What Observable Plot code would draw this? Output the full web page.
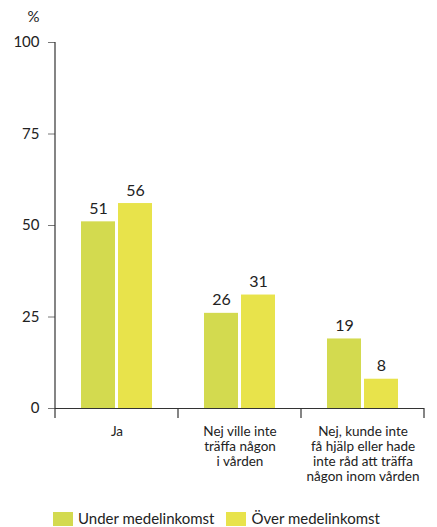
<!DOCTYPE html>
<html>
<head>
<meta charset="utf-8">
<script src="https://cdn.jsdelivr.net/npm/d3@7"></script>
<script src="https://cdn.jsdelivr.net/npm/@observablehq/plot@0.6"></script>
<style>
  html, body { margin: 0; padding: 0; background: #fff; }
  body { width: 437px; font-family: Lato, "Open Sans", sans-serif; color: #222; }
  #legend { display: flex; align-items: center; margin: 26px 0 0 53px; font-size: 15px; line-height: 15px; }
  .item { display: flex; align-items: center; margin-right: 12px; }
  .sw { width: 20px; height: 14px; margin-right: 5px; }
</style>
</head>
<body>
<div id="chart"></div>
<div id="legend"></div>
<script>
const categories = [
  "Ja",
  "Nej ville inte\nträffa någon\ni vården",
  "Nej, kunde inte\nfå hjälp eller hade\ninte råd att träffa\nnågon inom vården"
];
const series = ["Under medelinkomst", "Över medelinkomst"];
const underValues = [51, 26, 19];
const overValues = [56, 31, 8];
const yTicks = [0, 25, 50, 75, 100];
const colors = ["#d3da4f", "#e8e34b"];

const data = [];
categories.forEach((c, i) => {
  data.push({category: c, series: series[0], value: underValues[i]});
  data.push({category: c, series: series[1], value: overValues[i]});
});

const FONT = "Lato, 'Open Sans', sans-serif";

const plot = Plot.plot({
  width: 437,
  height: 485,
  marginTop: 42,
  marginLeft: 54,
  marginRight: 13,
  marginBottom: 77,
  style: {fontFamily: FONT, fontSize: "14px", color: "#222", background: "white", overflow: "visible"},
  fx: {domain: categories, padding: 0, label: null},
  x: {domain: series, paddingInner: 0.08, paddingOuter: 0.7, axis: null},
  y: {domain: [0, 100], label: null},
  color: {domain: series, range: colors},
  marks: [
    Plot.axisY(yTicks, {tickSize: 7, tickPadding: 9, fontSize: 15, stroke: "#777", label: "%", labelAnchor: "top", labelArrow: "none", labelOffset: 28}),
    Plot.axisFx({anchor: "bottom", tickSize: 0, tickPadding: 17, fontSize: 13.5, lineHeight: 1.1, label: null}),
    Plot.barY(data, {fx: "category", x: "series", y: "value", fill: "series"}),
    Plot.text(data, {fx: "category", x: "series", y: "value", text: "value", lineAnchor: "bottom", dy: -8, fontSize: 16, fill: "#222"}),
    Plot.ruleY([0], {stroke: "#333", strokeWidth: 1.2})
  ]
});

document.getElementById("chart").appendChild(plot);

const svg = d3.select(plot);
// nudge the "%" axis label down a little (by 8px)
svg.selectAll('g[aria-label="y-axis label"] text').each(function() {
  const t = d3.select(this);
  const tr = t.attr("transform") || "";
  t.attr("transform", (tr + " translate(0,8)").trim());
});

// axis line and category boundary ticks, derived from the plot's scales
const fx = plot.scale("fx");
const y = plot.scale("y");
const bounds = categories.map(c => fx.apply(c)).concat([fx.apply(categories[categories.length - 1]) + fx.bandwidth]);
const g = svg.append("g").attr("stroke", "#333").attr("stroke-width", 1.2);
g.append("line")
  .attr("x1", bounds[0]).attr("x2", bounds[0])
  .attr("y1", y.apply(100)).attr("y2", y.apply(0));
g.selectAll("line.b").data(bounds).join("line").attr("class", "b")
  .attr("x1", d => d).attr("x2", d => d)
  .attr("y1", y.apply(0)).attr("y2", y.apply(0) + 10);

// legend
const legend = d3.select("#legend");
series.forEach((s, i) => {
  const item = legend.append("div").attr("class", "item");
  item.append("div").attr("class", "sw").style("background", colors[i]);
  item.append("span").text(s);
});
</script>
</body>
</html>
